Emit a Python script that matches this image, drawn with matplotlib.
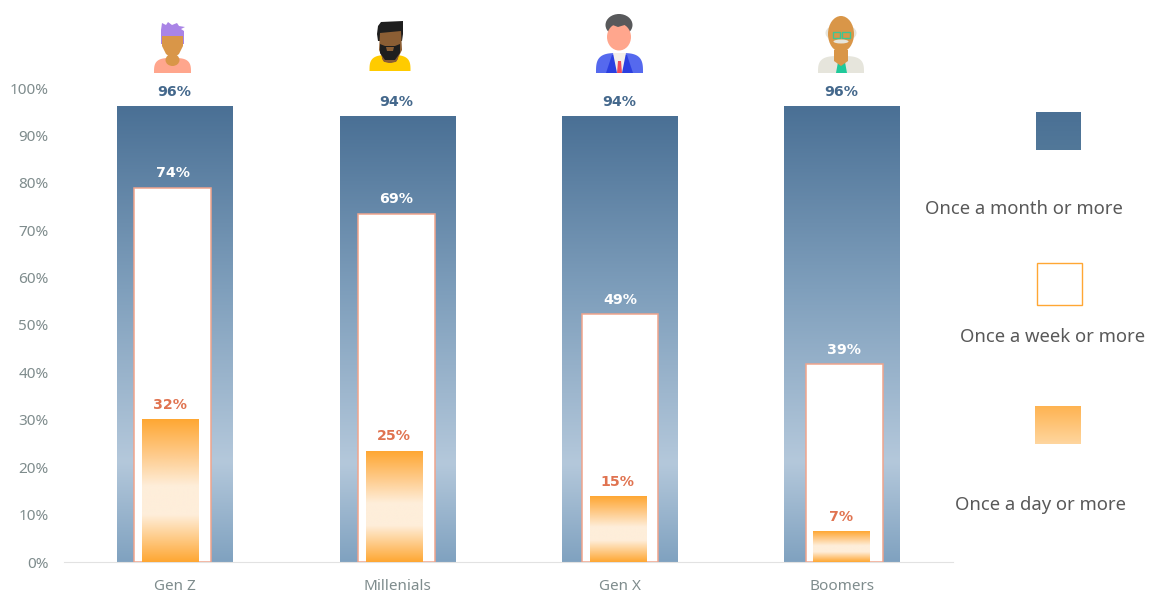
import numpy as np
from matplotlib import pyplot as plt
from matplotlib.colors import LinearSegmentedColormap
from matplotlib.patches import Ellipse, Polygon, Rectangle

# values
categories = ['Gen Z', 'Millenials', 'Gen X', 'Boomers']
month_heights = [96, 94, 94, 96]
week_heights = [79, 73.5, 52.3, 41.7]
day_heights = [30, 23.4, 13.9, 6.5]
month_labels = ['96%', '94%', '94%', '96%']
week_labels = ['74%', '69%', '49%', '39%']
day_labels = ['32%', '25%', '15%', '7%']
legend_names = ['Once a month or more', 'Once a week or more', 'Once a day or more']
yticks = list(range(0, 101, 10))

# the inner bars are not quite centred in the original
week_shift = [-0.011, -0.004, 0.002, 0.011]
day_shift = [-0.0225, -0.0157, -0.009, -0.002]

W, H = 1155, 598
plt.rcParams['font.family'] = ['Noto Sans', 'DejaVu Sans']

month_cmap = LinearSegmentedColormap.from_list('month', [(0, '#4a7095'), (0.4, '#7f9fbc'), (0.78, '#b4c8db'), (1, '#80a2c0')])
day_cmap = LinearSegmentedColormap.from_list('day', [(0, '#ffa733'), (0.25, '#fecb8b'), (0.47, '#feeeda'), (0.67, '#feeeda'), (1, '#ffa733')])
swatch_cmap = LinearSegmentedColormap.from_list('swatch', ['#ffb351', '#fed69f'])
swatch_blue = LinearSegmentedColormap.from_list('swatch2', ['#4a7095', '#527899'])

fig = plt.figure(figsize=(W / 100, H / 100), dpi=100)
ax = fig.add_axes([64 / W, (H - 562) / H, (953 - 64) / W, (562 - 88) / H])
ramp = np.linspace(0, 1, 256).reshape(-1, 1)


def grad_bar(axis, x, width, top, cmap, z):
    axis.imshow(ramp, cmap=cmap, aspect='auto', zorder=z, interpolation='bilinear', extent=[x - width / 2, x + width / 2, 0, top])


def bar_label(x, y, s, color):
    ax.text(x, y + 1.6, s, ha='center', va='bottom', fontsize=10.2, fontweight='bold', family='DejaVu Sans', color=color, zorder=5, clip_on=False)


for i in range(len(categories)):
    wx = i + week_shift[i]
    dx = i + day_shift[i]
    grad_bar(ax, i, 0.52, month_heights[i], month_cmap, 2)
    ax.bar(wx, week_heights[i], width=0.345, color='white', edgecolor='#f0a48c', linewidth=1.1, zorder=3)
    grad_bar(ax, dx, 0.252, day_heights[i], day_cmap, 4)
    bar_label(i - 0.003, month_heights[i], month_labels[i], '#44688c')
    bar_label(wx, week_heights[i], week_labels[i], 'white')
    bar_label(dx, day_heights[i], day_labels[i], '#e07350')

ax.set_xlim(-0.5, 3.5)
ax.set_ylim(0, 100)
ax.set_xticks(range(len(categories)))
ax.set_xticklabels(categories, fontsize=11, color='#7f8c8d')
ax.set_yticks(yticks)
ax.set_yticklabels(['{0}%'.format(t) for t in yticks], fontsize=11, color='#7f8c8d')
ax.tick_params(length=0)
ax.tick_params(axis='x', pad=12)
ax.tick_params(axis='y', pad=11)
for s in ['top', 'right', 'left']:
    ax.spines[s].set_visible(False)
ax.spines['bottom'].set_color('#e2e2e2')

# overlay in pixels for the avatars and the legend
ov = fig.add_axes([0, 0, 1, 1], facecolor='none')
ov.set_xlim(0, W)
ov.set_ylim(H, 0)
ov.axis('off')


def dome(cx, bottom, w, h, color, z=2):
    # squarish shoulders
    t = np.linspace(np.pi, 2 * np.pi, 60)
    c, s = np.cos(t), np.sin(t)
    pts = np.column_stack([cx + w / 2 * np.sign(c) * np.abs(c) ** 0.6, bottom + h * np.sign(s) * np.abs(s) ** 0.6])
    ov.add_patch(Polygon(pts, closed=True, color=color, lw=0, zorder=z))


def oval(cx, cy, w, h, color, z=3):
    ov.add_patch(Ellipse((cx, cy), w, h, color=color, lw=0, zorder=z))


def poly(pts, color, z=3):
    ov.add_patch(Polygon(pts, closed=True, color=color, lw=0, zorder=z))


# Gen Z
dome(172.5, 73, 37, 15, '#ffa68d')
oval(172.5, 60, 14, 12, '#d99648', 3)
poly([(161, 30), (161, 44), (184, 44), (184, 36), (184, 31), (181, 29), (185, 27), (179, 26), (177, 23), (172, 25), (168, 22), (166, 25), (162, 23)], '#a984e6', 3)
poly([(162, 36), (183, 36), (183, 46), (179, 54), (175, 57), (170, 57), (166, 54), (162, 46)], '#d99648', 4)

# Millenials
dome(390, 71, 41, 16, '#ffcb00')
oval(390, 58, 16, 10, '#8b5e34', 3)
poly([(378, 26), (381, 22), (403, 21), (403, 34), (402, 41), (378, 41), (377, 34)], '#1e1e1e', 3)
poly([(380, 33), (401, 31), (402, 50), (396, 62), (384, 62), (379, 50)], '#8b5e34', 4)
poly([(380, 44), (385, 46), (395, 46), (400, 44), (400, 53), (395, 60), (385, 60), (380, 53)], '#1e1e1e', 5)
poly([(386, 47), (394, 47), (393, 51), (387, 51)], '#8b5e34', 6)

# Gen X
dome(619.5, 73, 47, 20, '#5569ee')
poly([(606, 73), (612, 55), (627, 55), (633, 73)], '#2b3fe0', 3)
poly([(613, 53), (626, 53), (622, 73), (617, 73)], '#f3efe9', 4)
poly([(618, 61), (621, 61), (622, 73), (617, 73)], '#ef4b5c', 5)
oval(619, 25, 27, 22, '#58595b', 3)
oval(619, 37, 24, 27, '#ffa68d', 4)
poly([(607, 34), (607, 26), (610, 24), (618, 27), (628, 24), (631, 27), (631, 34), (631, 22), (607, 22)], '#58595b', 5)

# Boomers
dome(841, 73, 46, 17, '#e6e5dc')
poly([(836, 73), (838, 62), (845, 62), (847, 73)], '#1fc99a', 3)
poly([(834, 50), (848, 50), (848, 61), (841, 66), (834, 61)], '#d99648', 4)
oval(841, 33, 31, 18, '#e6e5dc', 3)
oval(841, 34, 26, 36, '#d99648', 4)
ov.add_patch(Rectangle((832.5, 31.5), 7.5, 6.5, fc='none', ec='#3cc694', lw=1, zorder=6))
ov.add_patch(Rectangle((842, 31.5), 7.5, 6.5, fc='none', ec='#3cc694', lw=1, zorder=6))
oval(841, 41.5, 15, 4, '#e6e5dc', 6)

# legend
ov.imshow(ramp, cmap=swatch_blue, aspect='auto', extent=[1036, 1081, 150, 112], zorder=3)
ov.add_patch(Rectangle((1036.5, 262.5), 45, 42, fc='white', ec='#ffa733', lw=1))
ov.imshow(ramp, cmap=swatch_cmap, aspect='auto', extent=[1035, 1081, 444, 406], zorder=3)
ov.set_xlim(0, W)
ov.set_ylim(H, 0)
ov.text(925, 209, legend_names[0], ha='left', va='center', fontsize=13.3, color='#595959')
ov.text(960, 336.5, legend_names[1], ha='left', va='center', fontsize=13.3, color='#595959')
ov.text(955, 505.5, legend_names[2], ha='left', va='center', fontsize=13.3, color='#595959')

fig.savefig('out.png', dpi=100)
